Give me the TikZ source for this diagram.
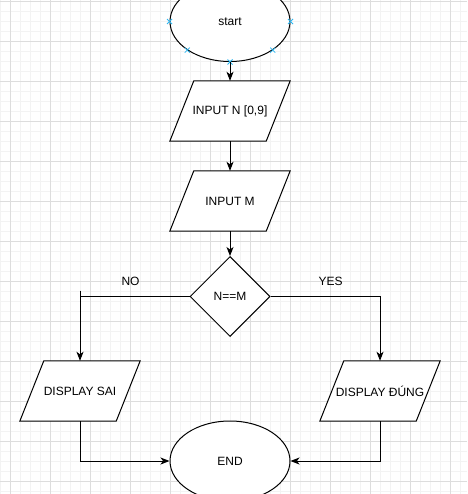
\documentclass[tikz,border=0pt]{standalone}
\usepackage{fontspec}
\setmainfont{Liberation Sans}
\usetikzlibrary{arrows.meta,shapes.geometric,calc}
\definecolor{minorgrid}{HTML}{F3F3F3}
\definecolor{majorgrid}{HTML}{DDDDDD}
\definecolor{handle}{HTML}{29B6F2}
\tikzset{
  every node/.style={font=\fontsize{12}{14}\selectfont, text=black},
  terminal/.style={ellipse, draw, line width=1pt, minimum width=120pt, minimum height=80pt, inner sep=0pt, fill=white},
  iobox/.style={rectangle, minimum width=120pt, minimum height=60pt, inner sep=0pt},
  decision/.style={diamond, draw, line width=1pt, minimum width=80pt, minimum height=80pt, inner sep=0pt, aspect=1, fill=white},
  flow/.style={line width=1pt, -{Stealth[length=9pt,width=7pt,inset=2.5pt]}},
  plainline/.style={line width=1pt},
  label/.style={font=\fontsize{12}{14}\selectfont},
  handlemark/.style={draw=handle, line width=0.8pt}
}
% outline of a slanted input/output box around a rectangular node
\newcommand{\slantbox}[1]{%
  \draw[line width=1pt, fill=white]
    ($(#1.north west)+(24,0)$) -- (#1.north east) --
    ($(#1.south east)+(-24,0)$) -- (#1.south west) -- cycle;}
\begin{document}
\begin{tikzpicture}[x=1pt, y=-1pt]
\useasboundingbox (0,0) rectangle (467,494);
\clip (0,0) rectangle (467,494);
\fill[white] (0,0) rectangle (467,494);
% background grid
\foreach \x in {0.5,10.5,...,470} \draw[minorgrid, line width=1pt] (\x,0) -- (\x,494);
\foreach \y in {1.5,11.5,...,500} \draw[minorgrid, line width=1pt] (0,\y) -- (467,\y);
\foreach \x in {10.5,50.5,...,470} \draw[majorgrid, line width=1pt] (\x,0) -- (\x,494);
\foreach \y in {1.5,41.5,...,500} \draw[majorgrid, line width=1pt] (0,\y) -- (467,\y);

% nodes
\node[terminal] (start) at (230,21.5) {start};
\node[iobox] (inN) at (230,111) {};
\node[iobox] (inM) at (230,201) {};
\node[decision] (cmp) at (230,296.5) {N==M};
\node[iobox] (sai) at (80,391) {};
\node[iobox] (dung) at (380,391) {};
\node[terminal] (stop) at (230,461) {END};

\slantbox{inN}
\slantbox{inM}
\slantbox{sai}
\slantbox{dung}
\node at (inN) {INPUT N [0,9]};
\node at (inM) {INPUT M};
\node at (sai) {DISPLAY SAI};
\node at (dung) {DISPLAY ĐÚNG};

% connection handles on the start ellipse
\foreach \a in {west,east,south,south west,south east} {
  \draw[handlemark] ($(start.\a)+(-2.5,-2.5)$) -- ($(start.\a)+(2.5,2.5)$);
  \draw[handlemark] ($(start.\a)+(-2.5,2.5)$) -- ($(start.\a)+(2.5,-2.5)$);
}

% connectors
\draw[flow] (start.south) -- (inN.north);
\draw[flow] (inN.south) -- (inM.north);
\draw[flow] (inM.south) -- (cmp.north);
\coordinate (nostub) at (80.5,290.5);
\draw[plainline] (nostub) -- (nostub |- cmp.west);
\draw[flow] (cmp.west) -| (sai.north);
\draw[flow] (cmp.east) -| (dung.north);
\draw[flow] (sai.south) |- (stop.west);
\draw[flow] (dung.south) |- (stop.east);

% branch labels
\node[label] (nolbl) at (130.5,281.5) {NO};
\node[label] (yeslbl) at (330.5,281.5) {YES};
\end{tikzpicture}
\end{document}
